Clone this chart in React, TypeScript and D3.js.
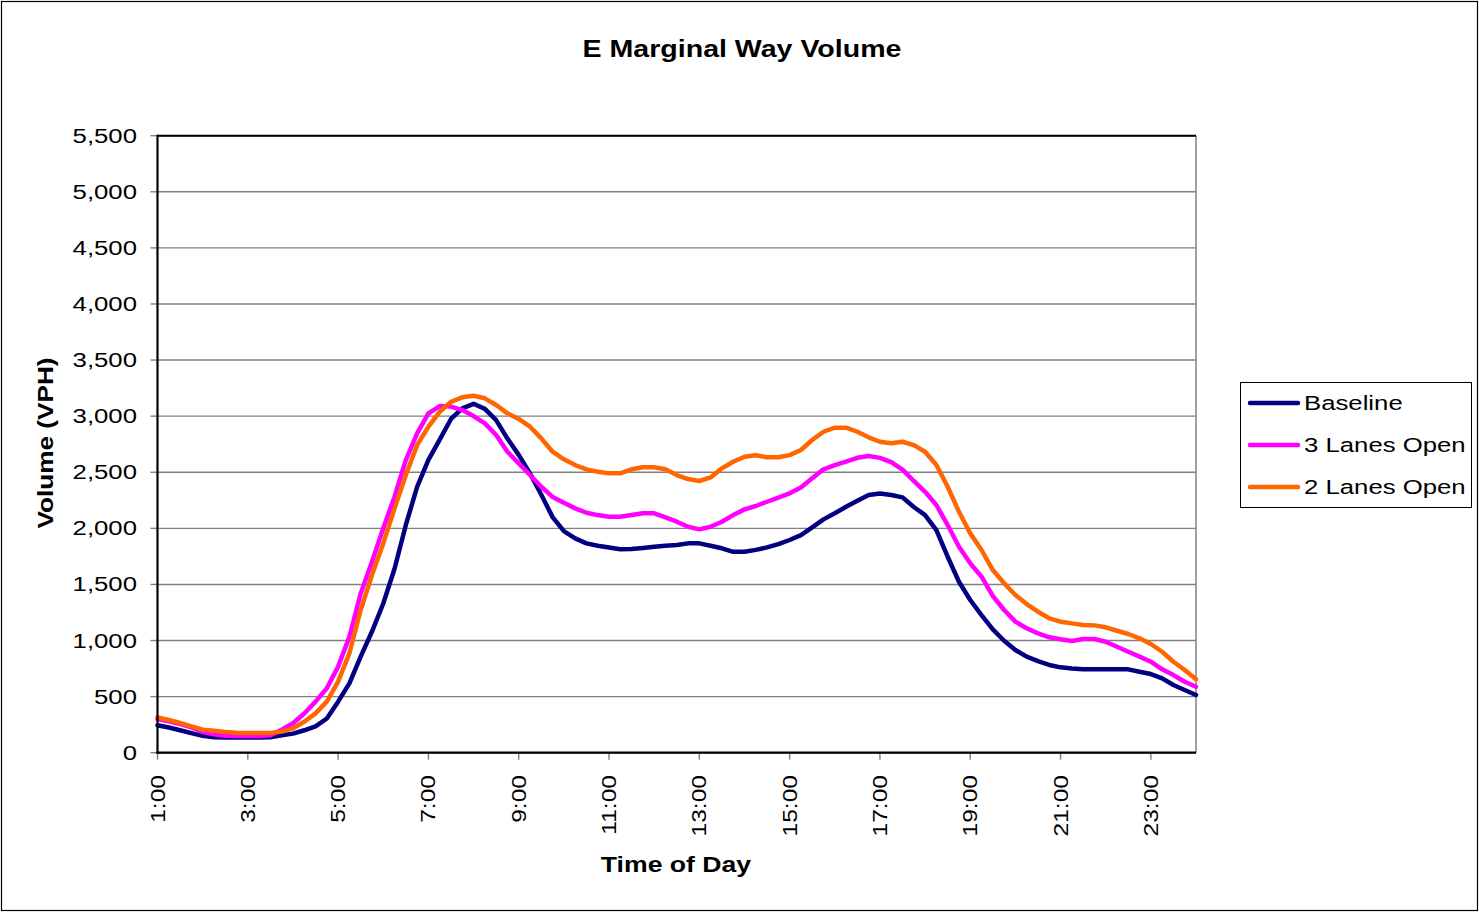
import React from "react";
import * as d3 from "d3";

// 15-minute slots from 1:00 to 24:00 (hours)
const times: number[] = d3.range(0, 93).map((i) => 1 + i * 0.25);

const baseline = [
  245, 225, 200, 175, 150, 138, 135, 135, 135, 135, 138, 155, 170, 200, 235, 305,
  455, 618, 856, 1080, 1330, 1640, 2030, 2370, 2610, 2790, 2975, 3070, 3110, 3065,
  2965, 2800, 2655, 2490, 2300, 2100, 1975, 1910, 1866, 1845, 1830, 1813, 1815, 1825,
  1836, 1845, 1851, 1866, 1866, 1845, 1822, 1791, 1791, 1808, 1830, 1860, 1896, 1940,
  2009, 2080, 2134, 2193, 2246, 2297, 2310, 2297, 2276, 2190, 2118, 1985, 1747, 1524,
  1361, 1227, 1100, 998, 915, 856, 817, 782, 761, 750, 743, 743, 743, 743, 743, 722,
  701, 663, 603, 559, 514,
];

const threeLanes = [
  300, 280, 255, 225, 185, 165, 150, 148, 148, 148, 155, 205, 262, 350, 455, 574,
  767, 1034, 1420, 1702, 2000, 2282, 2609, 2847, 3025, 3090, 3085, 3054, 3001, 2936,
  2832, 2683, 2579, 2475, 2371, 2280, 2228, 2178, 2139, 2118, 2103, 2103, 2118, 2134,
  2134, 2098, 2059, 2014, 1991, 2014, 2059, 2118, 2169, 2199, 2237, 2273, 2312, 2365,
  2446, 2526, 2564, 2594, 2629, 2644, 2628, 2590, 2523, 2422, 2326, 2208, 2029, 1836,
  1688, 1569, 1397, 1272, 1168, 1109, 1064, 1029, 1011, 996, 1013, 1014, 989, 945, 900,
  856, 811, 743, 692, 633, 588,
];

const twoLanes = [
  315, 292, 265, 235, 205, 195, 185, 178, 175, 175, 175, 188, 217, 276, 351, 455,
  633, 886, 1272, 1584, 1866, 2178, 2475, 2742, 2906, 3039, 3128, 3168, 3182, 3159,
  3099, 3025, 2975, 2906, 2802, 2683, 2615, 2564, 2526, 2504, 2490, 2490, 2526, 2544,
  2544, 2526, 2475, 2439, 2422, 2454, 2535, 2594, 2638, 2651, 2633, 2633, 2653, 2698,
  2787, 2861, 2897, 2897, 2861, 2811, 2772, 2758, 2772, 2742, 2683, 2564, 2371, 2148,
  1955, 1807, 1628, 1510, 1406, 1325, 1257, 1198, 1168, 1153, 1138, 1135, 1118, 1087,
  1058, 1020, 969, 900, 811, 737, 654,
];

const seriesNames = ["Baseline", "3 Lanes Open", "2 Lanes Open"];
const seriesColors = ["#000080", "#FF00FF", "#FF6600"];
const seriesData = [baseline, threeLanes, twoLanes];

const xTickHours = [1, 3, 5, 7, 9, 11, 13, 15, 17, 19, 21, 23];
const xTickLabels = ["1:00", "3:00", "5:00", "7:00", "9:00", "11:00", "13:00", "15:00", "17:00", "19:00", "21:00", "23:00"];
const yTicks = [0, 500, 1000, 1500, 2000, 2500, 3000, 3500, 4000, 4500, 5000, 5500];

const W = 1479;
const H = 914;
const PL = 157.5;
const PR = 1196;
const PT = 135.7;
const PB = 752.7;
const FONT = "'Liberation Sans', Arial, sans-serif";
const SX = 1.32;

export default function App() {
  const x = d3.scaleLinear().domain([1, 24]).range([PL, PR]);
  const y = d3.scaleLinear().domain([0, 5500]).range([PB, PT]);
  const fmt = d3.format(",");
  const line = d3
    .line<number>()
    .x((_, i) => x(times[i]))
    .y((d) => y(d));

  return (
    <svg
      width={W}
      height={H}
      style={{ position: "absolute", left: 0, top: 0, background: "#fff" }}
      fontFamily={FONT}
    >
      <rect x={1.5} y={1.5} width={W - 3} height={H - 5} fill="#fff" stroke="#000" strokeWidth={1.2} />

      {/* title */}
      <text
        transform={`translate(742,57) scale(1.19,1)`}
        textAnchor="middle"
        fontSize={24}
        fontWeight="bold"
      >
        E Marginal Way Volume
      </text>

      {/* gridlines */}
      {yTicks.map((t) => (
        <line key={"g" + t} x1={PL} x2={PR} y1={y(t)} y2={y(t)} stroke="#808080" strokeWidth={1.4} />
      ))}
      {/* right border */}
      <line x1={PR} x2={PR} y1={PT} y2={PB} stroke="#808080" strokeWidth={1.5} />
      {/* top border */}
      <line x1={PL} x2={PR} y1={PT} y2={PT} stroke="#000" strokeWidth={2} />

      {/* y ticks & labels */}
      {yTicks.map((t) => (
        <g key={"y" + t}>
          <line x1={PL - 7} x2={PL} y1={y(t)} y2={y(t)} stroke="#808080" strokeWidth={1.4} />
          <text
            transform={`translate(137,${y(t)}) scale(${SX},1)`}
            textAnchor="end"
            dy="0.36em"
            fontSize={19.5}
          >
            {fmt(t)}
          </text>
        </g>
      ))}

      {/* x ticks & labels */}
      {xTickHours.map((h, i) => (
        <g key={"x" + h}>
          <line x1={x(h)} x2={x(h)} y1={PB} y2={PB + 7} stroke="#808080" strokeWidth={1.4} />
          <text
            transform={`translate(${x(h)},775) rotate(-90) scale(1.26,1)`}
            textAnchor="end"
            dy="0.36em"
            fontSize={19.5}
          >
            {xTickLabels[i]}
          </text>
        </g>
      ))}

      {/* series */}
      {seriesData.map((s, i) => (
        <path
          key={seriesNames[i]}
          d={line(s) || ""}
          fill="none"
          stroke={seriesColors[i]}
          strokeWidth={4.5}
          strokeLinejoin="round"
          strokeLinecap="round"
        />
      ))}

      {/* axes */}
      <line x1={PL} x2={PL} y1={PT - 1} y2={PB + 1} stroke="#000" strokeWidth={2.2} />
      <line x1={PL - 1} x2={PR} y1={PB} y2={PB} stroke="#000" strokeWidth={2.2} />

      {/* axis titles */}
      <text
        transform={`translate(676,872) scale(1.21,1)`}
        textAnchor="middle"
        fontSize={22}
        fontWeight="bold"
      >
        Time of Day
      </text>
      <text
        transform={`translate(53,443) rotate(-90) scale(1.19,1)`}
        textAnchor="middle"
        fontSize={22}
        fontWeight="bold"
      >
        Volume (VPH)
      </text>

      {/* legend */}
      <rect x={1240.5} y={382.5} width={231} height={125} fill="#fff" stroke="#000" strokeWidth={1} />
      {seriesNames.map((n, i) => (
        <g key={"l" + n}>
          <line
            x1={1250}
            x2={1298}
            y1={403 + i * 42}
            y2={403 + i * 42}
            stroke={seriesColors[i]}
            strokeWidth={4.5}
            strokeLinecap="round"
          />
          <text
            transform={`translate(1304,${403 + i * 42}) scale(${SX},1)`}
            dy="0.36em"
            fontSize={19.5}
          >
            {n}
          </text>
        </g>
      ))}
    </svg>
  );
}
